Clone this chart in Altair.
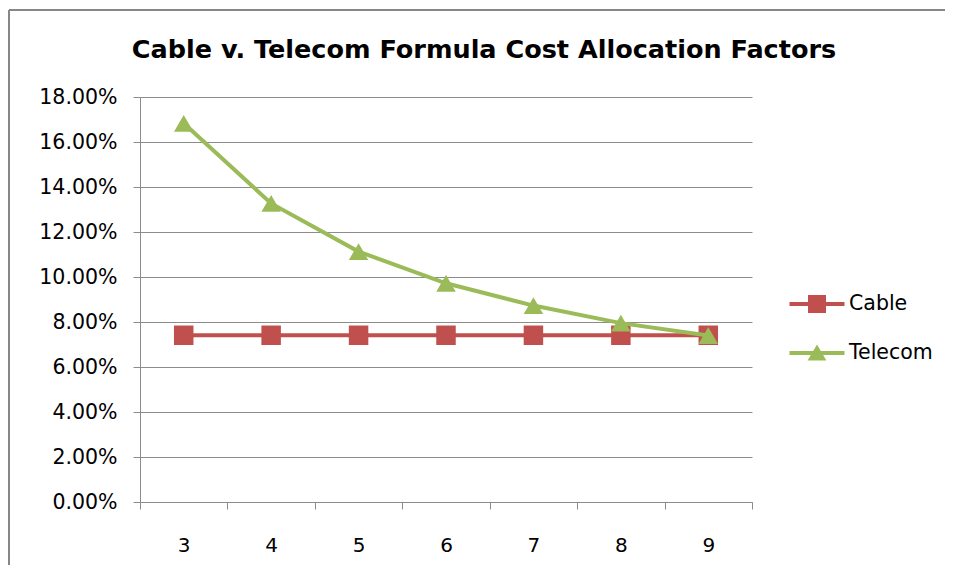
import altair as alt
import pandas as pd

title_text = ["Cable v. Telecom Formula Cost Allocation Factors"]
positions = [3, 4, 5, 6, 7, 8, 9]
cable = [0.0741, 0.0741, 0.0741, 0.0741, 0.0741, 0.0741, 0.0741]
telecom = [0.1683, 0.1327, 0.1113, 0.0972, 0.0873, 0.0795, 0.0740]
series = ["Cable", "Telecom"]
colors = ["#C0504D", "#9BBB59"]
shapes = ["square", "triangle-up"]
y_ticks = [0, 0.02, 0.04, 0.06, 0.08, 0.10, 0.12, 0.14, 0.16, 0.18]

rows = []
for p, c, t in zip(positions, cable, telecom):
    rows.append({"pos": p, "value": c, "series": "Cable"})
    rows.append({"pos": p, "value": t, "series": "Telecom"})
df = pd.DataFrame(rows)

sq_path = "M-1.375,-0.1H1.375V0.1H-1.375Z M-0.45,-0.45H0.45V0.45H-0.45Z"
tri_path = "M-1.375,-0.1H1.375V0.1H-1.375Z M-0.47,0.38L0,-0.42L0.47,0.38Z"
FONT = "DejaVu Sans"

legend = alt.Legend(
    title=None, orient="none", legendX=657, legendY=187, padding=0,
    symbolSize=1600, labelFontSize=20.5, labelFont=FONT, labelColor="#000000",
    labelOffset=12, rowPadding=18, symbolStrokeWidth=0, symbolOpacity=1,
)

x_enc = alt.X(
    "pos:O", bandPosition=0.5,
    scale=alt.Scale(type="band", paddingInner=0, paddingOuter=0),
    axis=alt.Axis(title=None, labelAngle=0, tickBand="extent", grid=False,
                  labelFont=FONT, labelFontSize=20, labelColor="#000000",
                  labelPadding=26, tickSize=7, tickColor="#8c8c8c",
                  domainColor="#8c8c8c", tickWidth=1, domainWidth=1),
)
y_enc = alt.Y(
    "value:Q",
    scale=alt.Scale(domain=[0, 0.18], nice=False),
    axis=alt.Axis(title=None, values=y_ticks, format=".2%", grid=True,
                  gridColor="#8c8c8c", gridWidth=1, labelFont=FONT,
                  labelFontSize=20.5, labelColor="#000000", labelPadding=16,
                  tickSize=7, tickColor="#8c8c8c", domainColor="#8c8c8c"),
)
color_enc = alt.Color("series:N", scale=alt.Scale(domain=series, range=colors), legend=legend)

layers = []
for s, shp in zip(series, shapes):
    base = alt.Chart(df).transform_filter(alt.datum.series == s)
    layers.append(base.mark_line(strokeWidth=4).encode(x=x_enc, y=y_enc, color=color_enc))
    layers.append(base.mark_point(filled=True, opacity=1, size=380, shape=shp).encode(
        x=x_enc, y=y_enc, color=color_enc))

legend_layer = alt.Chart(df).transform_filter("false").mark_point(
    filled=True, opacity=1, strokeWidth=0).encode(
    x=x_enc, y=y_enc, color=color_enc,
    shape=alt.Shape("series:N", scale=alt.Scale(domain=series, range=[sq_path, tri_path]), legend=legend),
)

title_layer = alt.Chart(pd.DataFrame({"t": title_text})).mark_text(
    font="DejaVu Sans", fontSize=25.5, fontWeight="bold", color="#000000",
    align="center", baseline="alphabetic").encode(
    text="t:N", x=alt.value(344), y=alt.value(-39))

one = pd.DataFrame({"a": [0]})
border = alt.Chart(one).mark_rule(color="#878787", strokeWidth=2).encode(
    x=alt.value(-131), x2=alt.value(-131), y=alt.value(-87), y2=alt.value(480))
border_top = alt.Chart(one).mark_rule(color="#878787", strokeWidth=2).encode(
    x=alt.value(-131), x2=alt.value(810), y=alt.value(-87), y2=alt.value(-87))

chart = alt.layer(border, border_top, title_layer, *layers, legend_layer).properties(
    width=612, height=405,
    autosize=alt.AutoSizeParams(type="none"),
    padding={"left": 132, "top": 89, "right": 193, "bottom": 63},
    background="white",
).configure_view(stroke=None)

chart.save("out.html", embed_options={"renderer": "svg", "actions": False})
